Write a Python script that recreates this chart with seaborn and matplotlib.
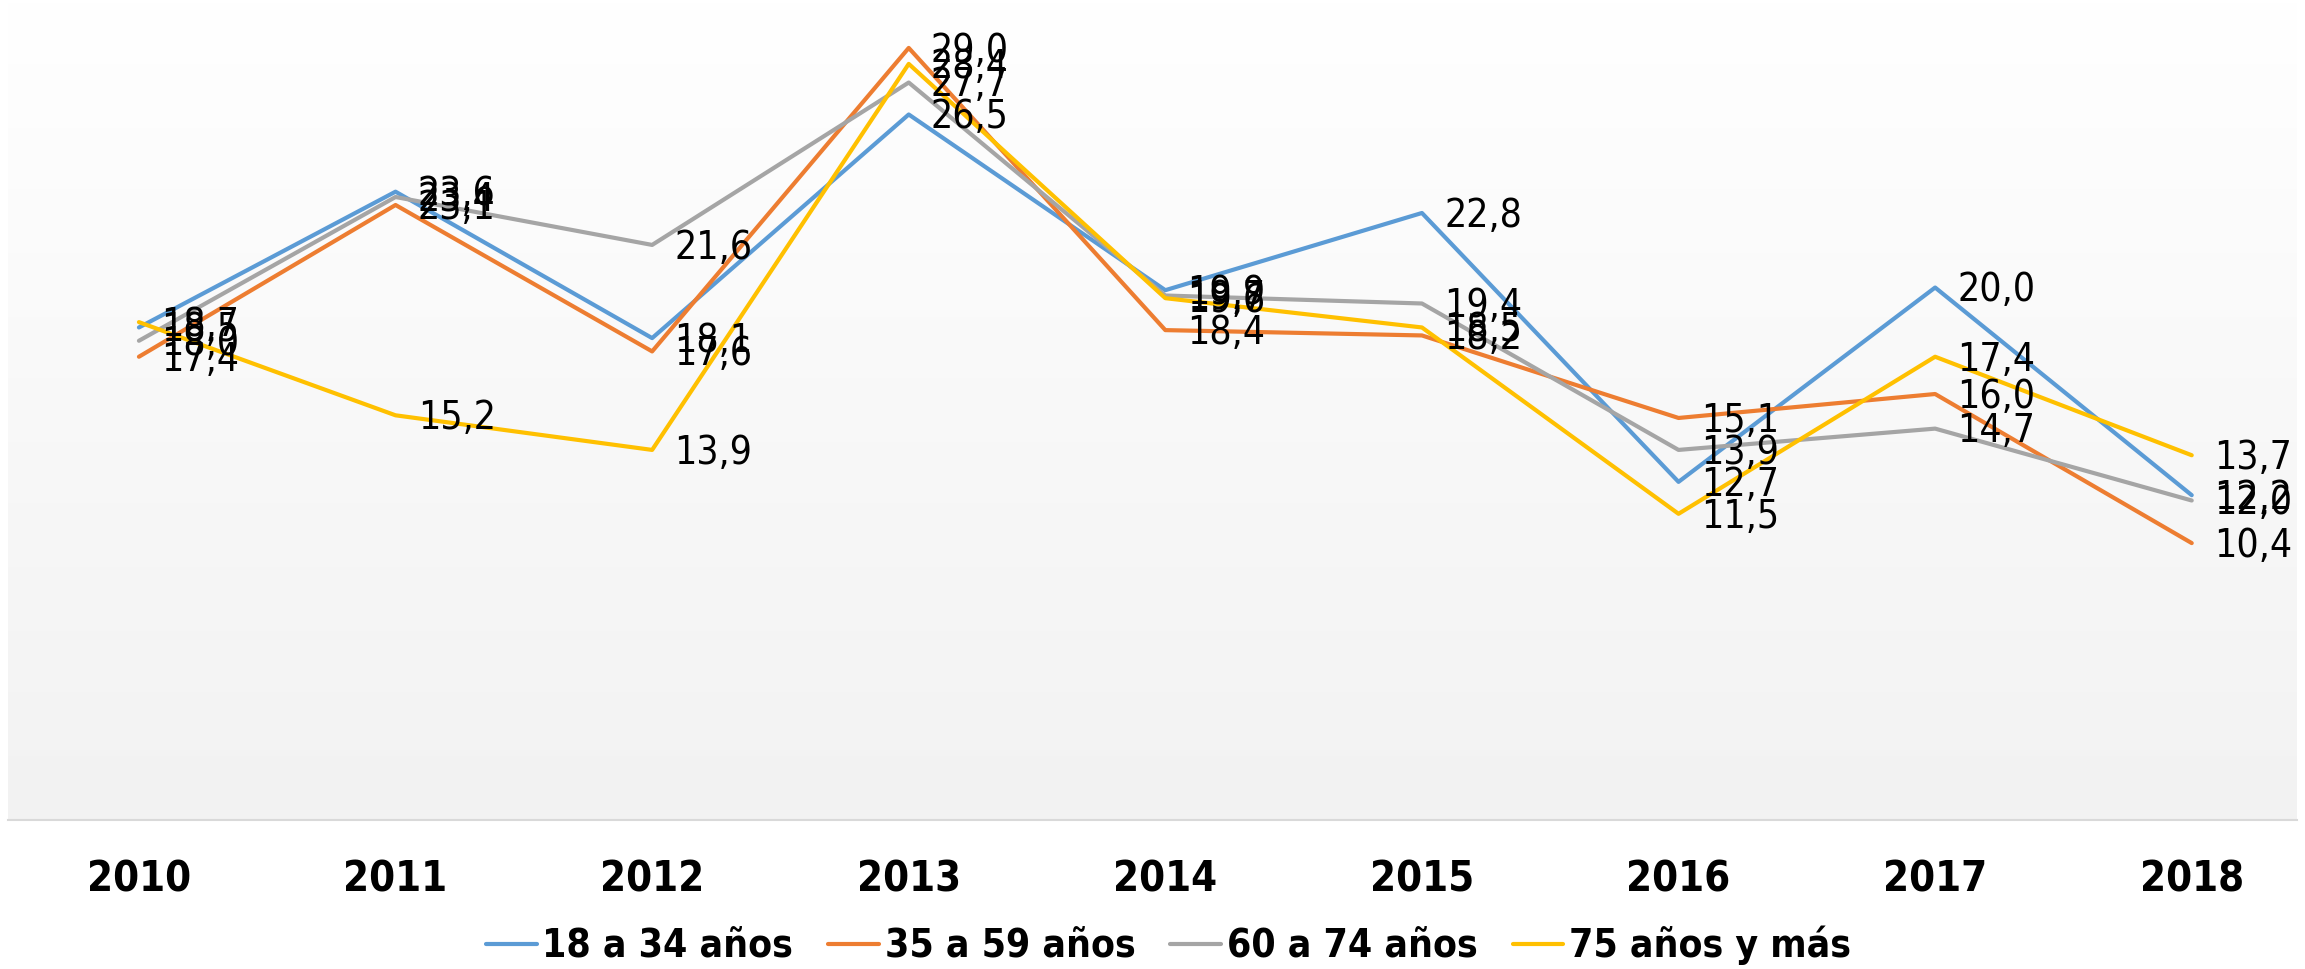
import pandas as pd
import seaborn as sns
import matplotlib.pyplot as plt
import numpy as np

# Datos
years = ['2010', '2011', '2012', '2013', '2014', '2015', '2016', '2017', '2018']
series_names = ['18 a 34 años', '35 a 59 años', '60 a 74 años', '75 años y más']
v_18_34 = [18.5, 23.6, 18.1, 26.5, 19.9, 22.8, 12.7, 20.0, 12.2]
v_35_59 = [17.4, 23.1, 17.6, 29.0, 18.4, 18.2, 15.1, 16.0, 10.4]
v_60_74 = [18.0, 23.4, 21.6, 27.7, 19.7, 19.4, 13.9, 14.7, 12.0]
v_75_mas = [18.7, 15.2, 13.9, 28.4, 19.6, 18.5, 11.5, 17.4, 13.7]
colors = ['#5B9BD5', '#ED7D31', '#A5A5A5', '#FFC000']

df = pd.DataFrame({'x': list(range(len(years))) * 4,
                   'serie': np.repeat(series_names, len(years)),
                   'valor': v_18_34 + v_35_59 + v_60_74 + v_75_mas})

sns.set_style('white')
plt.rcParams['font.family'] = ['DejaVu Sans']

fig = plt.figure(figsize=(23.05, 9.69), dpi=100)
ax = fig.add_axes([0.0035, 0.1538, 0.993, 0.8462])

x0, x1, y1 = -0.51, 8.41, 30.8

# Fondo degradado del area de trazado
grad = np.linspace(0, 1, 256).reshape(-1, 1)
ax.imshow(grad, cmap=plt.matplotlib.colors.LinearSegmentedColormap.from_list('g', ['#ffffff', '#f2f2f2']),
          aspect='auto', extent=(x0, x1, 0, y1), zorder=0, origin='upper')

sns.lineplot(data=df, x='x', y='valor', hue='serie', palette=colors, linewidth=3,
             ax=ax, legend=True, zorder=3)

# Etiquetas de datos
for name in series_names:
    sub = df[df['serie'] == name]
    for xv, yv in zip(sub['x'], sub['valor']):
        ax.annotate(f'{yv:.1f}'.replace('.', ','), (xv, yv), xytext=(16, -2),
                    textcoords='offset points', va='center', ha='left',
                    fontsize=28, fontstretch='condensed', color='black', zorder=5)

ax.set_xlim(x0, x1)
ax.set_ylim(0, y1)
ax.set_xticks(range(len(years)))
ax.set_xticklabels(years, fontsize=30, fontweight='bold', fontstretch='condensed', color='black')
ax.set_yticks([])
ax.set_xlabel('')
ax.set_ylabel('')
ax.tick_params(axis='x', length=0, pad=28)
for s in ['top', 'left', 'right']:
    ax.spines[s].set_visible(False)
ax.spines['bottom'].set_color('#d9d9d9')
ax.spines['bottom'].set_linewidth(1.5)

handles, labels = ax.get_legend_handles_labels()
leg = ax.legend(handles, labels, loc='center', bbox_to_anchor=(0.507, -0.153), ncol=4,
                frameon=False, handlelength=1.3, handletextpad=0.15,
                columnspacing=0.9, prop={'size': 28, 'weight': 'bold', 'stretch': 'condensed'})
for t in leg.get_texts():
    t.set_color('black')

fig.savefig('out.png', dpi=100)
